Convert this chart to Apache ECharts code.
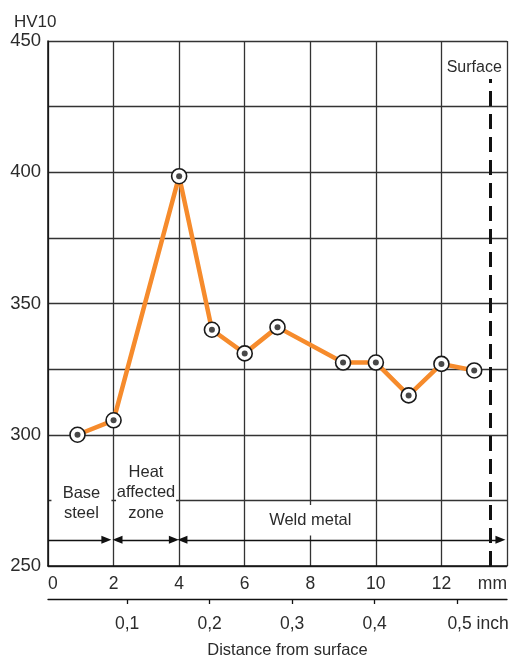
<!DOCTYPE html>
<html>
<head>
<meta charset="utf-8">
<script src="https://cdn.jsdelivr.net/npm/echarts@6/dist/echarts.min.js"></script>
<style>
  html, body { margin: 0; padding: 0; background: #fff; }
</style>
</head>
<body>
<!-- chart container -->
<div id="hardnessChart" style="width: 512px; height: 659px"></div>

<script>
// measured points: distance from surface (mm) and hardness HV10
const depthMm = [0.9, 2, 4, 5, 6, 7, 9, 10, 11, 12, 13]
const hardness = [300, 305.5, 398.5, 340, 331, 341, 327.5, 327.5, 315, 327, 324.5]

// tick labels of the secondary inch scale
const inchTicks = [0.1, 0.2, 0.3, 0.4, 0.5]

// zone annotations (text, x in mm, y in HV)
const zoneNames = ['Base\nsteel', 'Heat\naffected\nzone', 'Weld metal']
const zoneX = [1.02, 2.99, 8.0]
const zoneY = [273.8, 277.9, 267.4]

// zone arrows along HV 260: [from mm, to mm]
const arrowFrom = [0, 2.12, 4.1]
const arrowTo = [1.78, 3.84, 13.8]
const arrowLevel = 260

// surface marker
const surfaceMm = 13.5
const surfaceTop = 435.5

const FONT = 'Liberation Sans, Arial, sans-serif'
const TEXT = '#2b2b2b'
const GRIDC = '#333'

const chart = echarts.init(document.getElementById('hardnessChart'), null, { renderer: 'canvas' })

const points = depthMm.map((d, i) => [d, hardness[i]])

const option = {
  animation: false,
  title: {
    text: 'HV10',
    left: 9,
    top: 9,
    textStyle: { fontFamily: FONT, fontSize: 17, fontWeight: 'normal', color: TEXT }
  },
  grid: { left: 48, right: 5, top: 41, bottom: 93, containLabel: false, outerBoundsMode: 'none' },
  xAxis: [
    {
      type: 'value',
      min: 0,
      max: 14,
      interval: 2,
      position: 'bottom',
      axisLine: { show: true, lineStyle: { color: '#111', width: 1.5 } },
      axisTick: { show: false },
      splitLine: { show: true, lineStyle: { color: GRIDC, width: 1.3 } },
      axisLabel: {
        margin: 9,
        fontFamily: FONT,
        fontSize: 17.5,
        color: TEXT,
        alignMinLabel: 'left',
        alignMaxLabel: 'right',
        formatter: v => (v === 14 ? 'mm' : String(v))
      }
    },
    {
      type: 'value',
      min: 0.004,
      max: 0.5606,
      position: 'bottom',
      offset: 33,
      axisLine: { show: true, lineStyle: { color: '#111', width: 1.3 } },
      axisTick: { show: true, length: 5, customValues: inchTicks, lineStyle: { color: '#111', width: 1.3 } },
      splitLine: { show: false },
      axisLabel: {
        margin: 16,
        fontFamily: FONT,
        fontSize: 17.5,
        color: TEXT,
        customValues: inchTicks,
        formatter: v => {
          const s = v.toFixed(1).replace('.', ',')
          return v > 0.45 ? '{last|' + s + ' inch}' : s
        },
        rich: {
          last: { fontFamily: FONT, fontSize: 17.5, color: TEXT, padding: [0, 0, 0, 42] }
        }
      },
      name: 'Distance from surface',
      nameLocation: 'middle',
      nameGap: 43,
      nameTextStyle: { fontFamily: FONT, fontSize: 16.5, color: TEXT, padding: [0, 0, 0, 20] }
    }
  ],
  yAxis: {
    type: 'value',
    min: 250,
    max: 450,
    interval: 25,
    axisLine: { show: true, lineStyle: { color: '#111', width: 1.5 } },
    axisTick: { show: false },
    splitLine: { show: true, lineStyle: { color: GRIDC, width: 1.3 } },
    axisLabel: {
      margin: 7,
      fontFamily: FONT,
      fontSize: 18.5,
      color: TEXT,
      formatter: v => (v % 50 === 0 ? String(v) : '')
    }
  },
  series: [
    {
      // annotations: zone labels, arrows, surface line
      type: 'scatter',
      data: [],
      silent: true,
      z: 3,
      markPoint: {
        symbol: 'rect',
        symbolSize: 0,
        silent: true,
        data: zoneNames.map((t, i) => ({
          coord: [zoneX[i], zoneY[i]],
          value: t,
          label: {
            show: true,
            position: 'inside',
            formatter: t,
            fontFamily: FONT,
            fontSize: 16.5,
            lineHeight: 20.5,
            color: TEXT,
            backgroundColor: '#fff',
            width: i === 2 ? undefined : 60,
            align: 'center',
            padding: i === 2 ? [5, 4] : [2, 0]
          }
        })).concat([{
          coord: [13.0, 440],
          value: 'Surface',
          label: {
            show: true,
            position: 'inside',
            formatter: 'Surface',
            fontFamily: FONT,
            fontSize: 16,
            color: TEXT
          }
        }])
      },
      markLine: {
        silent: true,
        animation: false,
        label: { show: false },
        data: arrowFrom.map((a, i) => [
          {
            coord: [a, arrowLevel],
            symbol: i === 0 ? 'none' : 'triangle',
            symbolSize: [8, 10],
            lineStyle: { color: '#111', width: 1.3, type: 'solid' }
          },
          { coord: [arrowTo[i], arrowLevel], symbol: 'triangle', symbolSize: [8, 10] }
        ]).concat([[
          {
            coord: [surfaceMm, 250],
            symbol: 'none',
            lineStyle: { color: '#111', width: 3, type: [15, 8] }
          },
          { coord: [surfaceMm, surfaceTop], symbol: 'none' }
        ]])
      }
    },
    {
      name: 'HV10',
      type: 'line',
      data: points,
      z: 4,
      lineStyle: { color: '#f68b2c', width: 4.5 },
      symbol: 'circle',
      symbolSize: 15,
      itemStyle: { color: '#fff', borderColor: '#1a1a1a', borderWidth: 1.6 }
    },
    {
      // black center dots of the markers
      type: 'scatter',
      data: points,
      z: 5,
      symbolSize: 6,
      itemStyle: { color: '#1a1a1a' }
    }
  ]
}

chart.setOption(option)
</script>
</body>
</html>
